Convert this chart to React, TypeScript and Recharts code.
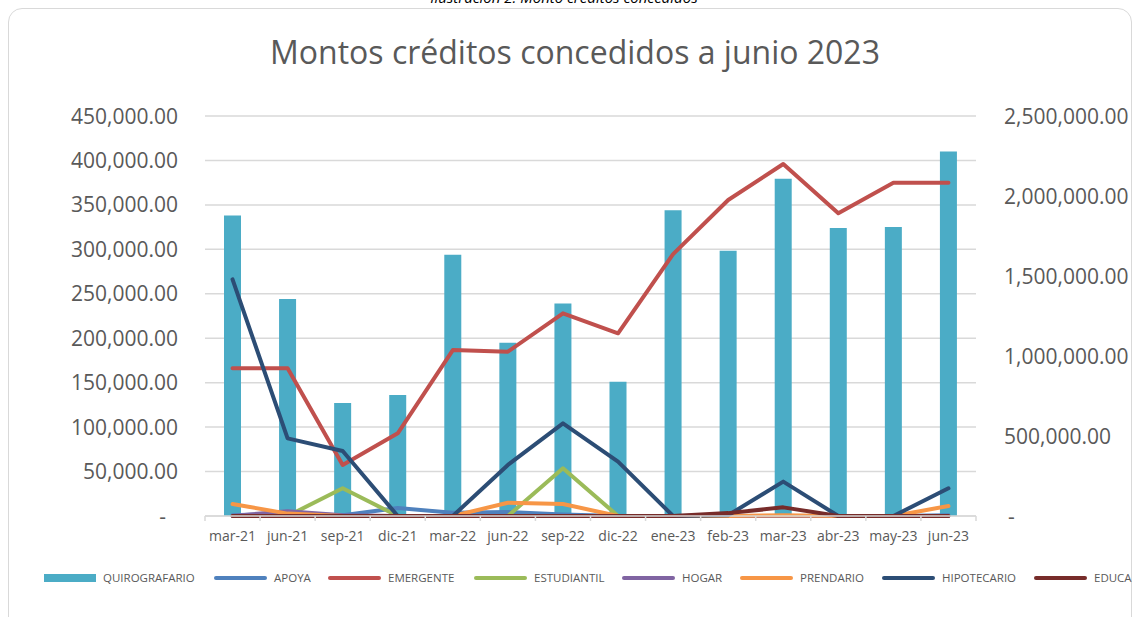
import React from 'react';
import { ComposedChart, Bar, Line, XAxis, YAxis, CartesianGrid } from 'recharts';

const categories = ['mar-21', 'jun-21', 'sep-21', 'dic-21', 'mar-22', 'jun-22', 'sep-22', 'dic-22', 'ene-23', 'feb-23', 'mar-23', 'abr-23', 'may-23', 'jun-23'];
const quirografario = [338000, 244000, 127000, 136000, 294000, 195000, 239000, 151000, 344000, 298500, 379500, 324000, 325000, 410000];
const apoya = [5000, 15000, 5000, 50000, 20000, 25000, 10000, 0, 0, 0, 0, 0, 0, 5000];
const emergente = [923000, 923000, 319000, 517000, 1037000, 1027000, 1267000, 1142000, 1637000, 1975000, 2200000, 1892000, 2083000, 2083000];
const estudiantil = [0, 0, 173000, 0, 0, 0, 298000, 0, 0, 0, 0, 0, 0, 0];
const hogar = [0, 30000, 5000, 0, 0, 0, 0, 0, 0, 0, 0, 0, 0, 0];
const prendario = [75000, 15000, 0, 0, 0, 83000, 75000, 0, 0, 0, 5000, 0, 0, 62500];
const hipotecario = [1479000, 485000, 406000, 0, 0, 319000, 579000, 340000, 0, 5000, 215000, 0, 0, 173000];
const educa = [0, 0, 0, 0, 0, 0, 0, 0, 0, 18000, 54000, 0, 0, 0];

const leftTicks = [0, 50000, 100000, 150000, 200000, 250000, 300000, 350000, 400000, 450000];
const rightTicks = [0, 500000, 1000000, 1500000, 2000000, 2500000];

const title = 'Montos créditos concedidos a junio 2023';
const caption = 'Ilustración 2. Monto créditos concedidos';

const lineSeries = [
  { key: 'apoya', name: 'APOYA', color: '#4F81BD', values: apoya },
  { key: 'emergente', name: 'EMERGENTE', color: '#C0504D', values: emergente },
  { key: 'estudiantil', name: 'ESTUDIANTIL', color: '#9BBB59', values: estudiantil },
  { key: 'hogar', name: 'HOGAR', color: '#8064A2', values: hogar },
  { key: 'prendario', name: 'PRENDARIO', color: '#F79646', values: prendario },
  { key: 'hipotecario', name: 'HIPOTECARIO', color: '#2C4D75', values: hipotecario },
  { key: 'educa', name: 'EDUCA', color: '#772C2A', values: educa },
];

const data = categories.map((c, i) => {
  const row: any = { cat: c, quirografario: quirografario[i] };
  lineSeries.forEach((s) => { row[s.key] = s.values[i]; });
  return row;
});

const FONT = '"Open Sans", sans-serif';
const GREY = '#595959';
const W = 1134;
const H = 617;
const PLOT_L = 205;
const PLOT_R = 976;
const PLOT_T = 116;
const PLOT_B = 516;
const BAND = (PLOT_R - PLOT_L) / categories.length;

const fmt = (v: number) => v.toLocaleString('en-US', { minimumFractionDigits: 2, maximumFractionDigits: 2 });

const LeftTick = (props: any) => {
  const { x, y, payload } = props;
  const zero = payload.value === 0;
  return (
    <text x={zero ? x - 12 : x} y={y} dy={7.5} textAnchor="end" fill={GREY} fontSize={21} fontFamily={FONT}>
      {zero ? '-' : fmt(payload.value)}
    </text>
  );
};

const RightTick = (props: any) => {
  const { x, y, payload } = props;
  const zero = payload.value === 0;
  return (
    <text x={zero ? x + 4 : x} y={y} dy={7.5} textAnchor="start" fill={GREY} fontSize={21} fontFamily={FONT}>
      {zero ? '-' : fmt(payload.value)}
    </text>
  );
};

const XTick = (props: any) => {
  const { x, y, payload, index } = props;
  const isLast = index === categories.length - 1;
  return (
    <g>
      <line x1={x - BAND / 2} x2={x - BAND / 2} y1={PLOT_B} y2={PLOT_B + 5} stroke="#D9D9D9" strokeWidth={1.5} />
      {isLast && <line x1={x + BAND / 2} x2={x + BAND / 2} y1={PLOT_B} y2={PLOT_B + 5} stroke="#D9D9D9" strokeWidth={1.5} />}
      <text x={x} y={PLOT_B + 25} textAnchor="middle" fill={GREY} fontSize={14} fontFamily={FONT}>
        {payload.value}
      </text>
    </g>
  );
};

const legendItems = [
  { name: 'QUIROGRAFARIO', color: '#4BACC6', bar: true, x: 44 },
  { name: 'APOYA', color: '#4F81BD', x: 214 },
  { name: 'EMERGENTE', color: '#C0504D', x: 328 },
  { name: 'ESTUDIANTIL', color: '#9BBB59', x: 474 },
  { name: 'HOGAR', color: '#8064A2', x: 622 },
  { name: 'PRENDARIO', color: '#F79646', x: 740 },
  { name: 'HIPOTECARIO', color: '#2C4D75', x: 882 },
  { name: 'EDUCA', color: '#772C2A', x: 1034 },
];

export default function App() {
  return (
    <div style={{ position: 'absolute', left: 0, top: 0, width: W, height: H, overflow: 'hidden', background: '#fff', fontFamily: FONT }}>
      <div style={{ position: 'absolute', left: 0, width: W - 6, top: -10, textAlign: 'center', fontStyle: 'italic', fontSize: 15, lineHeight: '15px', color: '#000', whiteSpace: 'nowrap' }}>
        {caption}
      </div>
      <div style={{ position: 'absolute', left: 8, top: 8, width: 1124, height: 660, border: '1.5px solid #D9D9D9', borderRadius: 14, boxSizing: 'border-box' }} />
      <div style={{ position: 'absolute', left: 0, width: 1150, top: 36, textAlign: 'center', fontSize: 32, lineHeight: '32px', color: GREY, whiteSpace: 'nowrap' }}>
        {title}
      </div>
      <div style={{ position: 'absolute', left: 0, top: 0 }}>
        <ComposedChart width={W} height={H} data={data} margin={{ top: PLOT_T, right: 0, bottom: H - PLOT_B - 30, left: 0 }}>
          <CartesianGrid yAxisId="left" vertical={false} stroke="#D9D9D9" strokeWidth={1.5} />
          <XAxis dataKey="cat" height={30} tick={<XTick />} tickLine={false} tickSize={0} tickMargin={0} axisLine={{ stroke: '#D9D9D9', strokeWidth: 1.5 }} interval={0} />
          <YAxis yAxisId="left" orientation="left" width={PLOT_L} domain={[0, 450000]} ticks={leftTicks} tick={<LeftTick />} tickLine={false} axisLine={false} tickMargin={21} interval={0} />
          <YAxis yAxisId="right" orientation="right" width={W - PLOT_R} domain={[0, 2500000]} ticks={rightTicks} tick={<RightTick />} tickLine={false} axisLine={false} tickMargin={22} interval={0} />
          <Bar yAxisId="left" dataKey="quirografario" name="QUIROGRAFARIO" fill="#4BACC6" barSize={17} isAnimationActive={false} />
          {lineSeries.map((s) => (
            <Line key={s.key} yAxisId="right" type="linear" dataKey={s.key} name={s.name} stroke={s.color} strokeWidth={4} strokeLinecap="round" strokeLinejoin="round" dot={false} activeDot={false} isAnimationActive={false} />
          ))}
        </ComposedChart>
      </div>
      {legendItems.map((it) => (
        <div key={it.name} style={{ position: 'absolute', left: it.x, top: 570, height: 16, display: 'flex', alignItems: 'center', whiteSpace: 'nowrap' }}>
          {it.bar ? (
            <div style={{ width: 52, height: 8, background: it.color }} />
          ) : (
            <div style={{ width: 53, height: 4, borderRadius: 2, background: it.color }} />
          )}
          <span style={{ marginLeft: 7, fontSize: 11.5, color: GREY, lineHeight: '16px' }}>{it.name}</span>
        </div>
      ))}
    </div>
  );
}
